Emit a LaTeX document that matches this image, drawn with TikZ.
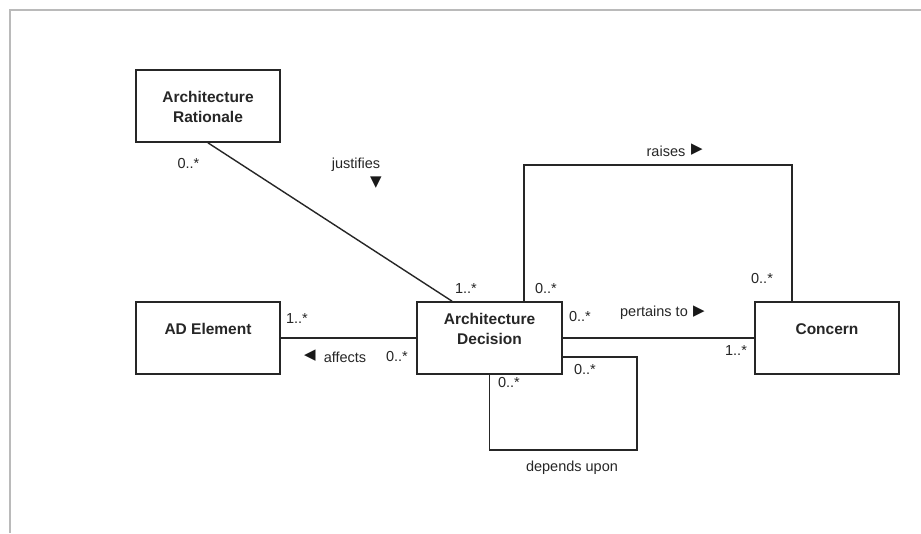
\documentclass[tikz,border=0pt]{standalone}
\usepackage{fontspec}
\setmainfont{Liberation Sans}
\newfontfamily\symfont{DejaVu Sans}
\begin{document}
\begin{tikzpicture}[x=1pt,y=-1pt,
  cls/.style={draw=black!85,line width=1.7pt,fill=white,minimum width=144pt,minimum height=72pt,inner sep=0pt},
  clstext/.style={align=center,inner sep=0pt,text=black!85,font=\fontsize{15.5}{20}\selectfont\bfseries},
  conn/.style={draw=black!85,line width=1.4pt},
  lbl/.style={font=\fontsize{14.5}{16}\selectfont,inner sep=0pt,text=black!85},
  tri/.style={font=\symfont\fontsize{15}{15}\selectfont,inner sep=0pt,text=black!90}]
\useasboundingbox (0,0) rectangle (921,533);
\fill[white] (0,0) rectangle (921,533);
\draw[black!27,line width=1.5pt] (10,533) -- (10,10) -- (921,10);

% classes
\node[cls] (rat) at (208,106) {};
\node[clstext] (ratt) at (208,107) {Architecture\\Rationale};
\node[cls,minimum width=145pt] (ad) at (489.5,338) {};
\node[clstext] (adt) at (489.5,329) {Architecture\\Decision};
\node[cls] (ade) at (208,338) {};
\node[clstext] (adet) at (208,329) {AD Element};
\node[cls] (con) at (827,338) {};
\node[clstext] (cont) at (827,329) {Concern};

% connector end points
\coordinate (adj) at ([xshift=-37.5pt]ad.north);
\coordinate (adr) at ([xshift=34.5pt]ad.north);
\coordinate (conr) at ([xshift=-35pt]con.north);
\coordinate (rtop) at (0,165);
\coordinate (adde) at ([yshift=-19pt]ad.east);
\coordinate (dbot) at (0,450);
\coordinate (dright) at (637,0);

% justifies
\draw[conn] (rat.south) -- (adj);
% raises
\draw[conn] (adr) -- (adr |- rtop) -- (conr |- rtop) -- (conr);
% pertains to
\draw[conn] (ad.east) -- (con.west);
% affects
\draw[conn] (ade.east) -- (ad.west);
% depends upon
\draw[conn] (ad.south) -- (ad.south |- dbot) -- (dright |- dbot) -- (dright |- adde) -- (adde);

% labels
\node[lbl] (l1) at (188.5,164) {0..*};
\node[lbl] (l2) at (356,165) {justifies};
\node[tri] (t2) at (376,183) {▼};
\node[lbl] (l3) at (466,289) {1..*};
\node[lbl] (l4) at (546,289) {0..*};
\node[lbl] (l5) at (762,279) {0..*};
\node[lbl] (l6) at (666,151) {raises};
\node[tri] (t6) at (697,150) {▶};
\node[lbl] (l7) at (580,317) {0..*};
\node[lbl] (l8) at (654,313) {pertains to};
\node[tri] (t8) at (699,312) {▶};
\node[lbl] (l9) at (736,351) {1..*};
\node[lbl] (l10) at (297,319) {1..*};
\node[tri] (t11) at (310,356) {◀};
\node[lbl] (l11) at (345,357) {affects};
\node[lbl] (l12) at (397,357) {0..*};
\node[lbl] (l13) at (509,383) {0..*};
\node[lbl] (l14) at (585,370) {0..*};
\node[lbl] (l15) at (572,468) {depends upon};
\end{tikzpicture}
\end{document}
